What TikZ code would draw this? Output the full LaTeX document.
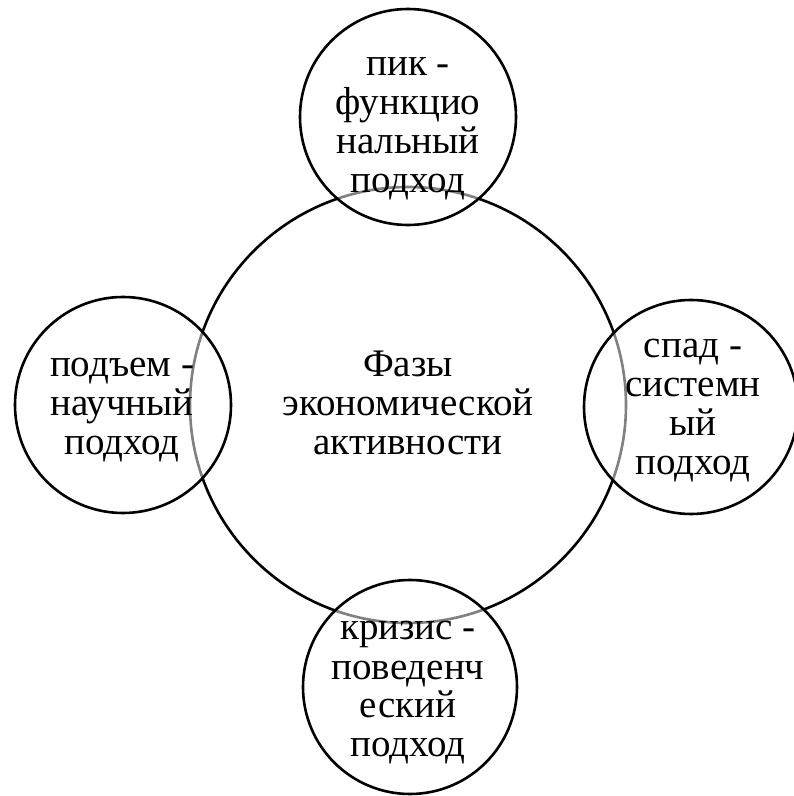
\documentclass[tikz,border=0pt]{standalone}
\usepackage{fontspec}
\setmainfont{Liberation Serif}
\begin{document}
\begin{tikzpicture}[x=1pt,y=1pt,
  ring/.style={circle,draw=black,line width=2.6pt,inner sep=0pt},
  smallring/.style={ring,fill=white,fill opacity=0.5,draw opacity=1,minimum size=216pt},
  txt/.style={align=center,inner sep=0pt,anchor=base,font=\fontsize{39}{39}\selectfont}]
\useasboundingbox (0,0) rectangle (794,796);
\node[ring,minimum size=436pt] (c) at (408,391) {};
\node[smallring] (t) at (408,679) {};
\node[smallring] (l) at (123,391) {};
\node[smallring,minimum size=214pt] (r) at (691,389) {};
\node[smallring,minimum size=214pt] (b) at (410,109) {};
\node[txt] (ct) at (408,341) {Фазы\\экономической\\активности};
\node[txt] (tt) at (408,603) {пик -\\функцио\\нальный\\подход};
\node[txt] (lt) at (122,341) {подъем -\\научный\\подход};
\node[txt] (rt) at (693,321) {спад -\\системн\\ый\\подход};
\node[txt] (bt) at (408,39) {кризис -\\поведенч\\еский\\подход};
\end{tikzpicture}
\end{document}
